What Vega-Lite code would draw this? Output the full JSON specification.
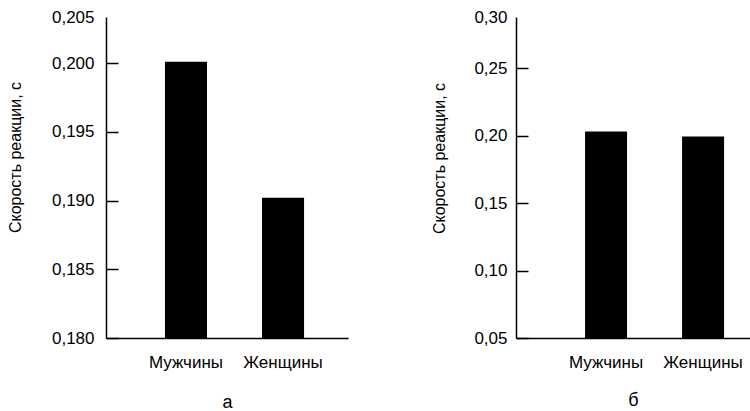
{
  "$schema": "https://vega.github.io/schema/vega-lite/v6.json",
  "padding": {"left": 7, "top": 8, "right": 0, "bottom": 0},
  "background": "white",
  "datasets": {
    "a": [
      {"sex": "Мужчины", "time": 0.2001},
      {"sex": "Женщины", "time": 0.1902}
    ],
    "b": [
      {"sex": "Мужчины", "time": 0.203},
      {"sex": "Женщины", "time": 0.1993}
    ]
  },
  "spacing": 168,
  "bounds": "flush",
  "hconcat": [
    {
      "width": 242,
      "height": 321,
      "data": {"name": "a"},
      "mark": {"type": "bar", "color": "black"},
      "encoding": {
        "x": {
          "field": "sex", "type": "nominal", "sort": null,
          "scale": {"paddingInner": 0.567, "paddingOuter": 0.53, "align": 0.573},
          "axis": {
            "title": "а", "labelAngle": 0, "ticks": false, "labelPadding": 16,
            "labelFontSize": 17, "titleFontSize": 18, "titleY": 69, "titleBaseline": "alphabetic",
            "domainWidth": 1.5
          }
        },
        "y": {
          "field": "time", "type": "quantitative",
          "scale": {"domain": [0.18, 0.20335], "zero": false, "nice": false},
          "axis": {
            "title": "Скорость реакции, с",
            "values": [0.18, 0.185, 0.19, 0.195, 0.2, 0.20335],
            "labelExpr": "datum.value > 0.203 ? '0,205' : replace(format(datum.value, '.3f'), '.', ',')",
            "tickSize": -12, "tickWidth": 1.5, "domainWidth": 1.5,
            "tickOpacity": {"condition": {"test": "datum.value > 0.203", "value": 0}, "value": 1},
            "labelPadding": 24, "labelFontSize": 17, "titleFontSize": 16,
            "titleX": -91, "titleY": 140, "titleAlign": "center", "titleBaseline": "middle", "titleAngle": -90
          }
        },
        "y2": {"datum": 0.18}
      }
    },
    {
      "width": 234,
      "height": 321,
      "data": {"name": "b"},
      "mark": {"type": "bar", "color": "black"},
      "encoding": {
        "x": {
          "field": "sex", "type": "nominal", "sort": null,
          "scale": {"paddingInner": 0.567, "paddingOuter": 0.4895, "align": 0.727},
          "axis": {
            "title": "б", "labelAngle": 0, "ticks": false, "labelPadding": 16,
            "labelFontSize": 17, "titleFontSize": 18, "titleY": 67, "titleBaseline": "alphabetic",
            "domainWidth": 1.5
          }
        },
        "y": {
          "field": "time", "type": "quantitative",
          "scale": {"domain": [0.05, 0.2878], "zero": false, "nice": false},
          "axis": {
            "title": "Скорость реакции, с",
            "values": [0.05, 0.1, 0.15, 0.2, 0.25, 0.2878],
            "labelExpr": "datum.value > 0.28 ? '0,30' : replace(format(datum.value, '.2f'), '.', ',')",
            "tickSize": -12, "tickWidth": 1.5, "domainWidth": 1.5,
            "tickOpacity": {"condition": {"test": "datum.value > 0.28", "value": 0}, "value": 1},
            "labelPadding": 21, "labelFontSize": 17, "titleFontSize": 16,
            "titleX": -77, "titleY": 141, "titleAlign": "center", "titleBaseline": "middle", "titleAngle": -90
          }
        },
        "y2": {"datum": 0.05}
      }
    }
  ],
  "config": {
    "font": "Liberation Sans",
    "view": {"stroke": null},
    "axis": {
      "grid": false,
      "domainColor": "black",
      "tickColor": "black",
      "labelColor": "black",
      "titleColor": "black",
      "titleFontWeight": "normal",
      "labelFontWeight": "normal"
    }
  }
}
